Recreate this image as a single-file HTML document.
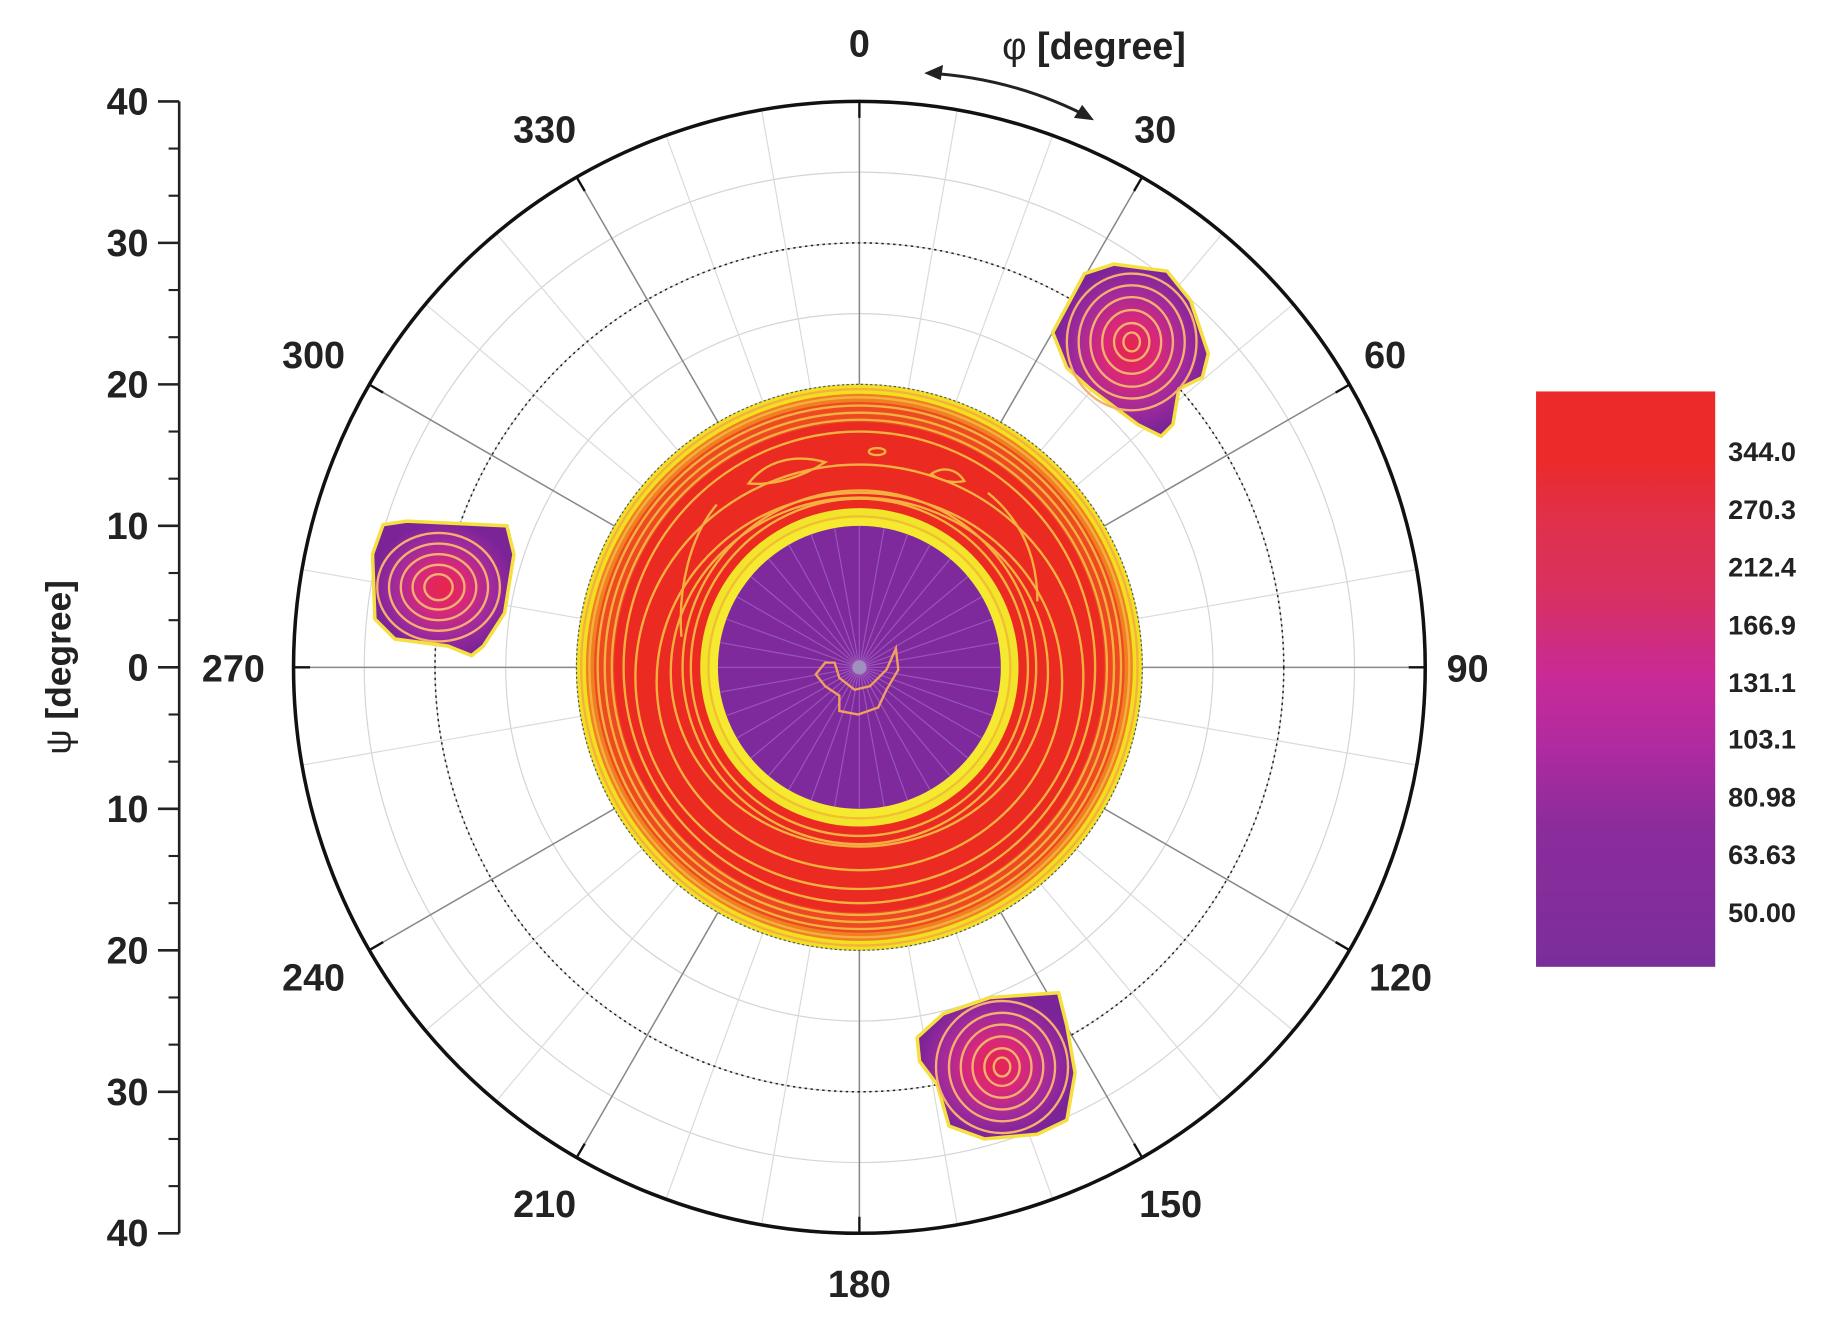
<!DOCTYPE html>
<html><head><meta charset="utf-8"><style>
html,body{margin:0;padding:0;background:#fff;}
svg{display:block;}
text{font-family:"Liberation Sans",sans-serif;font-weight:bold;fill:#222;}
</style></head><body>
<svg width="1839" height="1317" viewBox="0 0 1560 1117" preserveAspectRatio="none" xmlns="http://www.w3.org/2000/svg">
<defs>
<linearGradient id="cb" x1="0" y1="0" x2="0" y2="1">
<stop offset="0" stop-color="#ec2a2a"/><stop offset="0.12" stop-color="#ec2a2a"/>
<stop offset="0.22" stop-color="#e0304a"/><stop offset="0.35" stop-color="#d83060"/>
<stop offset="0.5" stop-color="#c82a98"/><stop offset="0.62" stop-color="#b02aa0"/>
<stop offset="0.75" stop-color="#8c2c9c"/><stop offset="1" stop-color="#7a2e9a"/>
</linearGradient>
<radialGradient id="spot"><stop offset="0" stop-color="#e8254a"/><stop offset="0.35" stop-color="#d8287a"/><stop offset="0.7" stop-color="#a02a9c"/><stop offset="1" stop-color="#7a2498"/></radialGradient>
</defs>
<g id="grid" fill="none">
<!-- light grid circles every 5 deg -->
<g stroke="#d4d4d4" stroke-width="1">
<circle cx="729" cy="566" r="60"/><circle cx="729" cy="566" r="180"/><circle cx="729" cy="566" r="300"/><circle cx="729" cy="566" r="420"/>
<circle cx="729" cy="566" r="120"/><circle cx="729" cy="566" r="240"/><circle cx="729" cy="566" r="360"/>
</g>
<g stroke="#dadada" stroke-width="1">
<line x1="729" y1="566" x2="812" y2="93"/><line x1="729" y1="566" x2="893" y2="115"/>
<line x1="729" y1="566" x2="1037" y2="198"/><line x1="729" y1="566" x2="1097" y2="258"/>
<line x1="729" y1="566" x2="1202" y2="483"/><line x1="729" y1="566" x2="1202" y2="649"/>
<line x1="729" y1="566" x2="1097" y2="874"/><line x1="729" y1="566" x2="1037" y2="934"/>
<line x1="729" y1="566" x2="893" y2="1017"/><line x1="729" y1="566" x2="812" y2="1039"/>
<line x1="729" y1="566" x2="646" y2="1039"/><line x1="729" y1="566" x2="565" y2="1017"/>
<line x1="729" y1="566" x2="421" y2="934"/><line x1="729" y1="566" x2="361" y2="874"/>
<line x1="729" y1="566" x2="256" y2="649"/><line x1="729" y1="566" x2="256" y2="483"/>
<line x1="729" y1="566" x2="361" y2="258"/><line x1="729" y1="566" x2="421" y2="198"/>
<line x1="729" y1="566" x2="565" y2="115"/><line x1="729" y1="566" x2="646" y2="93"/>
</g>
<g stroke="#888" stroke-width="1.3">
<line x1="729" y1="86" x2="729" y2="1046"/><line x1="249" y1="566" x2="1209" y2="566"/>
<line x1="489" y1="150" x2="969" y2="982"/><line x1="969" y1="150" x2="489" y2="982"/>
<line x1="313" y1="326" x2="1145" y2="806"/><line x1="1145" y1="326" x2="313" y2="806"/>
</g>
<circle cx="729" cy="566" r="360" stroke="#222" stroke-width="1.3" stroke-dasharray="2,3"/>
<circle cx="729" cy="566" r="480" stroke="#111" stroke-width="3"/>
</g>
<!-- outer ticks -->
<g stroke="#111" stroke-width="2">
<line x1="729" y1="86" x2="729" y2="100"/><line x1="729" y1="1046" x2="729" y2="1032"/>
<line x1="249" y1="566" x2="263" y2="566"/><line x1="1209" y1="566" x2="1195" y2="566"/>
<line x1="969" y1="150" x2="962" y2="162"/><line x1="489" y1="150" x2="496" y2="162"/>
<line x1="969" y1="982" x2="962" y2="970"/><line x1="489" y1="982" x2="496" y2="970"/>
<line x1="1145" y1="326" x2="1133" y2="333"/><line x1="313" y1="326" x2="325" y2="333"/>
<line x1="1145" y1="806" x2="1133" y2="799"/><line x1="313" y1="806" x2="325" y2="799"/>
</g>
<!-- central ring -->
<circle cx="729" cy="566" r="240" fill="#f2e020" stroke="#555" stroke-width="1" stroke-dasharray="2,2"/>
<circle cx="729" cy="566" r="232" fill="#f08020"/>
<circle cx="729" cy="566" r="225" fill="#ee4a22"/>
<circle cx="729" cy="566" r="208" fill="#eb2a22"/>
<g fill="none" stroke="#f5b040" stroke-width="2">
<circle cx="729" cy="566" r="236"/><circle cx="729" cy="566" r="229"/><circle cx="729" cy="566" r="222"/>
<circle cx="729" cy="566" r="216"/><circle cx="729" cy="566" r="210"/><circle cx="729" cy="566" r="200"/>
<ellipse cx="729" cy="574" rx="190" ry="180"/><ellipse cx="729" cy="578" rx="172" ry="160"/>
<ellipse cx="729" cy="570" rx="160" ry="148"/><circle cx="729" cy="566" r="150"/><circle cx="729" cy="566" r="143"/>
<path d="M635,410 C650,390 675,385 700,392 C680,405 655,412 635,410Z"/>
<ellipse cx="744" cy="383" rx="7" ry="3"/>
<path d="M790,402 C800,395 812,398 818,408 C808,410 798,408 790,402Z"/>
<path d="M608,428 C585,455 575,500 578,540"/><path d="M838,418 C865,440 880,470 880,510"/>
</g>
<circle cx="729" cy="566" r="135" fill="#f2e42a"/>
<circle cx="729" cy="566" r="128" fill="#f6ea30" stroke="#f0c030" stroke-width="2"/>
<circle cx="729" cy="566" r="120" fill="#7e2a9c"/>
<g stroke="#a060c0" stroke-width="1" opacity="0.8">
<line x1="729" y1="566" x2="729" y2="446"/><line x1="729" y1="566" x2="750" y2="448"/><line x1="729" y1="566" x2="770" y2="453"/>
<line x1="729" y1="566" x2="789" y2="462"/><line x1="729" y1="566" x2="806" y2="474"/><line x1="729" y1="566" x2="821" y2="489"/>
<line x1="729" y1="566" x2="833" y2="506"/><line x1="729" y1="566" x2="842" y2="525"/><line x1="729" y1="566" x2="847" y2="545"/>
<line x1="729" y1="566" x2="849" y2="566"/><line x1="729" y1="566" x2="847" y2="587"/><line x1="729" y1="566" x2="842" y2="607"/>
<line x1="729" y1="566" x2="833" y2="626"/><line x1="729" y1="566" x2="821" y2="643"/><line x1="729" y1="566" x2="806" y2="658"/>
<line x1="729" y1="566" x2="789" y2="670"/><line x1="729" y1="566" x2="770" y2="679"/><line x1="729" y1="566" x2="750" y2="684"/>
<line x1="729" y1="566" x2="729" y2="686"/><line x1="729" y1="566" x2="708" y2="684"/><line x1="729" y1="566" x2="688" y2="679"/>
<line x1="729" y1="566" x2="669" y2="670"/><line x1="729" y1="566" x2="652" y2="658"/><line x1="729" y1="566" x2="637" y2="643"/>
<line x1="729" y1="566" x2="625" y2="626"/><line x1="729" y1="566" x2="616" y2="607"/><line x1="729" y1="566" x2="611" y2="587"/>
<line x1="729" y1="566" x2="609" y2="566"/><line x1="729" y1="566" x2="611" y2="545"/><line x1="729" y1="566" x2="616" y2="525"/>
<line x1="729" y1="566" x2="625" y2="506"/><line x1="729" y1="566" x2="637" y2="489"/><line x1="729" y1="566" x2="652" y2="474"/>
<line x1="729" y1="566" x2="669" y2="462"/><line x1="729" y1="566" x2="688" y2="453"/><line x1="729" y1="566" x2="708" y2="448"/>
</g>
<circle cx="729" cy="566" r="6" fill="#a090c0"/>
<path d="M700,562 L692,572 L700,582 L712,590 L712,603 L728,606 L745,600 L752,585 L762,568 L760,550 L752,568 L738,582 L725,585 L712,575 L708,562Z" fill="none" stroke="#f0a060" stroke-width="2"/>
<!-- spots -->
<g>
<path d="M893,282 L920,232 L945,224 L990,230 L1010,255 L1025,300 L1020,320 L1000,330 L995,360 L985,370 L965,360 L945,345 L925,330 L905,312 Z" fill="url(#spot)" stroke="#f4e040" stroke-width="3"/>
<g fill="none" stroke="#f5b070" stroke-width="2">
<ellipse cx="960" cy="290" rx="55" ry="58"/><ellipse cx="960" cy="290" rx="45" ry="48"/><ellipse cx="960" cy="290" rx="35" ry="38"/>
<ellipse cx="960" cy="290" rx="25" ry="27"/><ellipse cx="960" cy="290" rx="15" ry="16"/><ellipse cx="960" cy="290" rx="7" ry="8"/>
</g>
<path d="M316,470 L325,445 L345,442 L430,446 L436,470 L428,520 L410,548 L400,556 L380,548 L335,542 L318,525 Z" fill="url(#spot)" stroke="#f4e040" stroke-width="3"/>
<g fill="none" stroke="#f5b070" stroke-width="2">
<ellipse cx="372" cy="498" rx="52" ry="46"/><ellipse cx="372" cy="498" rx="42" ry="37"/><ellipse cx="372" cy="498" rx="32" ry="28"/>
<ellipse cx="372" cy="498" rx="22" ry="19"/><ellipse cx="372" cy="498" rx="12" ry="11"/>
</g>
<path d="M778,880 L800,860 L840,846 L898,842 L905,870 L912,910 L905,950 L880,962 L835,966 L805,955 L795,920 L780,900 Z" fill="url(#spot)" stroke="#f4e040" stroke-width="3"/>
<g fill="none" stroke="#f5b070" stroke-width="2">
<ellipse cx="850" cy="905" rx="56" ry="56"/><ellipse cx="850" cy="905" rx="45" ry="46"/><ellipse cx="850" cy="905" rx="35" ry="36"/>
<ellipse cx="850" cy="905" rx="25" ry="26"/><ellipse cx="850" cy="905" rx="15" ry="16"/><ellipse cx="850" cy="905" rx="7" ry="8"/>
</g>
</g>
<!-- angle labels -->
<g font-size="32" text-anchor="middle">
<text x="729" y="48">0</text><text x="980" y="121">30</text><text x="1175" y="312">60</text>
<text x="1245" y="578">90</text><text x="1188" y="840">120</text><text x="993" y="1032">150</text>
<text x="729" y="1100">180</text><text x="462" y="1032">210</text><text x="266" y="840">240</text>
<text x="198" y="578">270</text><text x="266" y="312">300</text><text x="462" y="121">330</text>
</g>
<text x="928" y="50" font-size="32" text-anchor="middle"><tspan font-weight="normal">φ</tspan> [degree]</text>
<path d="M787,62 Q860,66 925,100" fill="none" stroke="#222" stroke-width="2.5"/>
<path d="M784,62 L800,55 L798,68Z" fill="#222"/><path d="M928,102 L911,100 L918,89Z" fill="#222"/>
<!-- left axis -->
<g stroke="#222" stroke-width="2.2">
<line x1="152" y1="86" x2="152" y2="1046"/>
<line x1="134" y1="86" x2="152" y2="86"/><line x1="134" y1="206" x2="152" y2="206"/><line x1="134" y1="326" x2="152" y2="326"/>
<line x1="134" y1="446" x2="152" y2="446"/><line x1="134" y1="566" x2="152" y2="566"/><line x1="134" y1="686" x2="152" y2="686"/>
<line x1="134" y1="806" x2="152" y2="806"/><line x1="134" y1="926" x2="152" y2="926"/><line x1="134" y1="1046" x2="152" y2="1046"/>
</g>
<g stroke="#222" stroke-width="1.8">
<line x1="143" y1="126" x2="152" y2="126"/><line x1="143" y1="166" x2="152" y2="166"/>
<line x1="143" y1="246" x2="152" y2="246"/><line x1="143" y1="286" x2="152" y2="286"/>
<line x1="143" y1="366" x2="152" y2="366"/><line x1="143" y1="406" x2="152" y2="406"/>
<line x1="143" y1="486" x2="152" y2="486"/><line x1="143" y1="526" x2="152" y2="526"/>
<line x1="143" y1="606" x2="152" y2="606"/><line x1="143" y1="646" x2="152" y2="646"/>
<line x1="143" y1="726" x2="152" y2="726"/><line x1="143" y1="766" x2="152" y2="766"/>
<line x1="143" y1="846" x2="152" y2="846"/><line x1="143" y1="886" x2="152" y2="886"/>
<line x1="143" y1="966" x2="152" y2="966"/><line x1="143" y1="1006" x2="152" y2="1006"/>
</g>
<g font-size="32" text-anchor="end">
<text x="126" y="97">40</text><text x="126" y="217">30</text><text x="126" y="337">20</text><text x="126" y="457">10</text>
<text x="126" y="577">0</text><text x="126" y="697">10</text><text x="126" y="817">20</text><text x="126" y="937">30</text><text x="126" y="1057">40</text>
</g>
<text transform="translate(60,566) rotate(-90)" font-size="30" text-anchor="middle"><tspan font-weight="normal">ψ</tspan> [degree]</text>
<!-- colorbar -->
<rect x="1303" y="332" width="152" height="488" fill="url(#cb)"/>
<g font-size="23" text-anchor="start">
<text x="1466" y="391">344.0</text><text x="1466" y="440">270.3</text><text x="1466" y="489">212.4</text>
<text x="1466" y="538">166.9</text><text x="1466" y="587">131.1</text><text x="1466" y="635">103.1</text>
<text x="1466" y="684">80.98</text><text x="1466" y="733">63.63</text><text x="1466" y="782">50.00</text>
</g>
</svg>
</body></html>
